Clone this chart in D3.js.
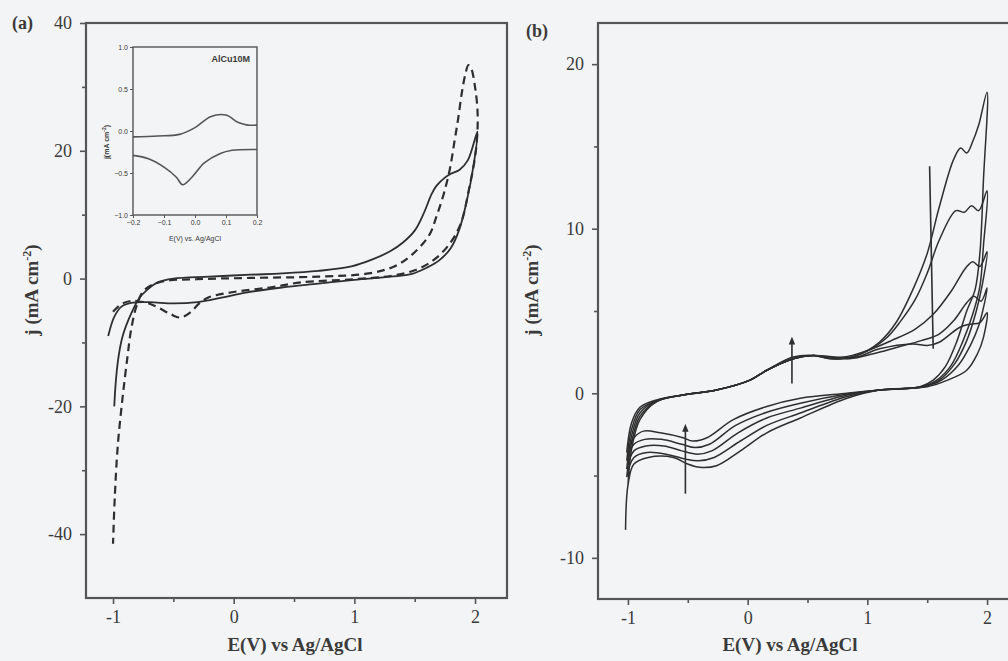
<!DOCTYPE html>
<html><head><meta charset="utf-8">
<script src="https://cdn.jsdelivr.net/npm/d3@7"></script>
<style>
html,body{margin:0;padding:0;background:#f3f4f6;}
svg{display:block;}
text{font-family:"Liberation Serif","DejaVu Serif",serif;fill:#3a3a3a;}
</style></head><body>
<svg id="chart" width="1008" height="661"></svg>
<script>
// ---------- data ----------
const aXTicks = [-1, 0, 1, 2];
const aXMinor = [-0.5, 0.5, 1.5];
const aYTicks = [-40, -20, 0, 20, 40];
const aYMinor = [-30, -10, 10, 30];
const bXTicks = [-1, 0, 1, 2];
const bXMinor = [-0.5, 0.5, 1.5];
const bYTicks = [-10, 0, 10, 20];
const bYMinor = [-5, 5, 15];
const insetXTicks = [-0.2, -0.1, 0.0, 0.1, 0.2];
const insetYTicks = [-1.0, -0.5, 0.0, 0.5, 1.0];

// panel (a) solid curve  [E, j]
const aSolid = [
  [-1.04,-9],[-0.99,-6],[-0.93,-4.4],[-0.85,-3.8],[-0.7,-3.7],[-0.5,-3.9],[-0.3,-3.7],[-0.1,-3.0],[0.1,-2.2],
  [0.4,-1.4],[0.7,-0.8],[1.0,-0.2],[1.3,0.3],[1.47,0.7],[1.6,1.7],[1.7,2.8],[1.8,4.8],[1.87,7.7],
  [1.93,12],[1.99,18],[2.02,23],[1.94,18.5],[1.87,17],[1.8,16.4],[1.75,15.8],[1.68,14.5],[1.64,13.2],
  [1.57,10],[1.5,7.5],[1.4,5.6],[1.3,4.3],[1.15,3.0],[0.975,1.9],[0.7,1.2],[0.4,0.8],[0.14,0.6],
  [-0.2,0.3],[-0.5,0.0],[-0.63,-0.6],[-0.72,-1.8],[-0.78,-3.0],[-0.85,-5.5],[-0.92,-9],[-0.96,-13],[-0.99,-20]
];
// panel (a) dashed curve
const aDashed = [
  [-1.0,-5.2],[-0.93,-4.0],[-0.85,-3.5],[-0.72,-3.8],[-0.62,-4.6],[-0.52,-5.6],[-0.44,-6.1],[-0.36,-5.3],
  [-0.28,-3.8],[-0.2,-2.9],[0.0,-2.1],[0.3,-1.4],[0.56,-0.6],[1.0,-0.1],[1.3,0.4],[1.5,1.3],[1.65,2.8],
  [1.78,5.2],[1.88,8.5],[1.95,14],[2.0,19],[2.02,23],[2.02,26.5],[2.0,30],[1.97,32.8],[1.945,33.4],
  [1.92,32],[1.89,29],[1.86,25],[1.83,21.5],[1.79,17],[1.74,13.2],[1.68,9.7],[1.62,6.8],[1.47,3.6],
  [1.33,1.9],[1.12,0.8],[0.7,0.3],[0.14,0.1],[-0.3,-0.1],[-0.6,-0.5],[-0.74,-1.8],[-0.8,-4],
  [-0.85,-8],[-0.88,-12.2],[-0.92,-18.5],[-0.96,-26],[-0.985,-34],[-1.0,-41.5]
];
// inset (AlCu10M)
const insetUpper = [[-0.2,-0.07],[-0.12,-0.06],[-0.05,-0.04],[0.0,0.04],[0.05,0.17],[0.1,0.19],[0.14,0.1],[0.17,0.07],[0.2,0.07]];
const insetLower = [[-0.2,-0.29],[-0.15,-0.33],[-0.1,-0.43],[-0.06,-0.55],[-0.04,-0.64],[-0.01,-0.55],[0.03,-0.38],[0.08,-0.27],[0.12,-0.23],[0.2,-0.22]];

// panel (b) five cycles
const bCycle1 = [
  [-1.01,-3.6],[-0.95,-2.7],[-0.87,-2.3],[-0.73,-2.4],[-0.54,-2.7],[-0.46,-2.9],[-0.34,-2.7],[-0.12,-1.6],[0.16,-0.8],
  [0.44,-0.3],[0.83,0.0],[1.1,0.2],[1.44,0.4],[1.55,0.8],[1.65,1.6],[1.75,3.2],[1.83,5.0],[1.9,6.3],[1.94,8.5],
  [1.97,13],[2.0,18.3],[1.93,16.3],[1.88,15.3],[1.83,14.6],[1.78,14.9],[1.72,14.2],[1.6,11.3],[1.5,8.5],[1.38,6.3],
  [1.24,4.3],[1.1,3.1],[0.91,2.3],[0.69,2.1],[0.55,2.3],[0.38,2.2],[0.16,1.4],[0.02,0.8],[-0.26,0.2],[-0.54,-0.1],
  [-0.76,-0.4],[-0.9,-0.85],[-0.97,-1.8],[-1.01,-3.6]
];
const bCycle2 = [
  [-1.01,-4.1],[-0.95,-3.1],[-0.86,-2.8],[-0.72,-2.8],[-0.55,-3.1],[-0.44,-3.3],[-0.32,-3.1],[-0.1,-1.95],[0.16,-1.15],
  [0.44,-0.6],[0.83,-0.05],[1.1,0.2],[1.45,0.4],[1.58,0.8],[1.7,1.7],[1.8,3.2],[1.88,4.8],[1.94,6.5],[1.97,9],
  [2.0,12.3],[1.93,11.1],[1.87,11.4],[1.81,11.0],[1.74,11.1],[1.6,9.3],[1.5,7.3],[1.4,5.7],[1.28,4.4],[1.15,3.3],
  [0.95,2.4],[0.75,2.1],[0.55,2.3],[0.38,2.1],[0.16,1.4],[0.02,0.8],[-0.26,0.2],[-0.54,-0.1],[-0.76,-0.45],
  [-0.9,-1.0],[-0.97,-2.2],[-1.01,-4.1]
];
const bCycle3 = [
  [-1.01,-4.6],[-0.95,-3.5],[-0.85,-3.2],[-0.7,-3.2],[-0.55,-3.5],[-0.42,-3.7],[-0.3,-3.5],[-0.08,-2.4],[0.16,-1.5],
  [0.44,-0.9],[0.83,-0.1],[1.1,0.2],[1.46,0.4],[1.6,0.8],[1.73,1.8],[1.83,3.2],[1.91,5.0],[1.96,6.6],[2.0,8.6],
  [1.94,7.7],[1.88,8.0],[1.82,7.6],[1.7,6.2],[1.55,4.8],[1.4,3.9],[1.2,3.2],[1.0,2.6],[0.8,2.2],[0.55,2.3],
  [0.38,2.1],[0.16,1.4],[0.02,0.8],[-0.26,0.2],[-0.54,-0.1],[-0.76,-0.45],[-0.9,-1.2],[-0.97,-2.6],[-1.01,-4.6]
];
const bCycle4 = [
  [-1.01,-5.1],[-0.95,-3.9],[-0.84,-3.6],[-0.68,-3.7],[-0.52,-4.0],[-0.41,-4.1],[-0.28,-3.9],[-0.06,-2.9],[0.16,-1.95],
  [0.44,-1.2],[0.83,-0.2],[1.1,0.2],[1.47,0.4],[1.62,0.8],[1.76,1.7],[1.86,2.9],[1.93,4.1],[1.97,5.2],[2.0,6.4],
  [1.95,5.6],[1.89,5.9],[1.83,5.5],[1.72,4.4],[1.6,3.6],[1.45,3.2],[1.25,2.8],[1.05,2.4],[0.85,2.1],[0.55,2.3],
  [0.38,2.1],[0.16,1.4],[0.02,0.8],[-0.26,0.2],[-0.54,-0.1],[-0.76,-0.5],[-0.9,-1.4],[-0.97,-3.0],[-1.01,-5.1]
];
const bCycle5 = [
  [-1.02,-8.3],[-1.0,-5.6],[-0.95,-4.3],[-0.83,-3.9],[-0.62,-3.9],[-0.5,-4.3],[-0.4,-4.5],[-0.26,-4.4],[-0.06,-3.5],
  [0.16,-2.4],[0.44,-1.5],[0.83,-0.3],[1.1,0.2],[1.5,0.4],[1.67,0.8],[1.83,1.4],[1.92,2.4],[1.97,3.4],[2.0,4.9],
  [1.94,4.3],[1.86,4.2],[1.77,4.0],[1.6,3.1],[1.5,2.9],[1.38,3.0],[1.1,2.7],[0.91,2.2],[0.7,2.1],[0.55,2.3],
  [0.38,2.1],[0.16,1.4],[0.02,0.8],[-0.26,0.2],[-0.54,-0.1],[-0.76,-0.5],[-0.9,-1.6],[-0.97,-3.4],[-1.0,-5.6]
];
const bCycles = [bCycle1, bCycle2, bCycle3, bCycle4, bCycle5];
// extra straight trace and arrows in panel (b)
const bSpike = [[1.52,13.8],[1.55,2.7]];
const bArrows = [ {x:-0.52, from:-6.1, to:-2.1}, {x:0.37, from:0.6, to:3.2} ];

// ---------- drawing ----------
const svg = d3.select("#chart");
const ink = "#2e2e2e", axisInk = "#555";

function panel(opt){
  const g = svg.append("g");
  const x = d3.scaleLinear().domain(opt.xd).range(opt.xr);
  const y = d3.scaleLinear().domain(opt.yd).range(opt.yr);
  g.append("rect").attr("x",opt.xr[0]).attr("y",opt.yr[1])
    .attr("width",opt.xr[1]-opt.xr[0]).attr("height",opt.yr[0]-opt.yr[1])
    .attr("fill","none").attr("stroke",axisInk).attr("stroke-width",2.2);
  const fmt = d=>d3.format("d")(d).replace("−","-");
  const xa = g.append("g").attr("transform",`translate(0,${opt.yr[0]})`)
    .call(d3.axisBottom(x).tickValues(opt.xt).tickSize(6).tickSizeOuter(0).tickPadding(6).tickFormat(fmt));
  const xm = g.append("g").attr("transform",`translate(0,${opt.yr[0]})`)
    .call(d3.axisBottom(x).tickValues(opt.xm).tickSize(4).tickSizeOuter(0).tickFormat(""));
  const ya = g.append("g").attr("transform",`translate(${opt.xr[0]},0)`)
    .call(d3.axisLeft(y).tickValues(opt.yt).tickSize(6).tickSizeOuter(0).tickPadding(8).tickFormat(fmt));
  const ym = g.append("g").attr("transform",`translate(${opt.xr[0]},0)`)
    .call(d3.axisLeft(y).tickValues(opt.ym).tickSize(4).tickSizeOuter(0).tickFormat(""));
  [xa,xm,ya,ym].forEach(a=>{a.select(".domain").remove();
    a.selectAll("line").attr("stroke",axisInk).attr("stroke-width",1.6);
    a.selectAll("text").attr("font-size",18).attr("fill","#3a3a3a").style("font-family","Liberation Serif, serif");});
  g.append("text").attr("x",(opt.labelXc)).attr("y",651).attr("text-anchor","middle")
    .attr("font-size",19).attr("font-weight","bold").text("E(V) vs Ag/AgCl");
  const yl = g.append("text").attr("transform",`translate(${opt.ylx},${opt.yly}) rotate(-90)`)
    .attr("text-anchor","middle").attr("font-size",19).attr("font-weight","bold");
  yl.append("tspan").text("j (mA cm");
  yl.append("tspan").attr("dy",-7).attr("font-size",12).text("-2");
  yl.append("tspan").attr("dy",7).text(")");
  return {g,x,y};
}

// Panel (a)
const A = panel({xd:[-1.224,2.265], xr:[86,507], yd:[-50,40], yr:[598,23],
  xt:aXTicks, xm:aXMinor, yt:aYTicks, ym:aYMinor, labelXc:295, ylx:38, yly:290});
const lineA = d3.line().x(d=>A.x(d[0])).y(d=>A.y(d[1])).curve(d3.curveCatmullRom.alpha(0.5));
A.g.append("path").datum(aSolid).attr("d",lineA).attr("fill","none").attr("stroke",ink).attr("stroke-width",1.8);
A.g.append("path").datum(aDashed).attr("d",lineA).attr("fill","none").attr("stroke",ink).attr("stroke-width",2.2).attr("stroke-dasharray","8,5");
A.g.append("text").attr("x",12).attr("y",29).attr("font-size",18).attr("font-weight","bold").text("(a)");

// Inset
const ix = d3.scaleLinear().domain([-0.2,0.2]).range([133,257]);
const iy = d3.scaleLinear().domain([-1.0,1.0]).range([215,47]);
const ig = svg.append("g");
ig.append("rect").attr("x",133).attr("y",47).attr("width",124).attr("height",168).attr("fill","none")
  .attr("stroke",axisInk).attr("stroke-width",1.4);
const ixa = ig.append("g").attr("transform","translate(0,215)").call(d3.axisBottom(ix).tickValues(insetXTicks).tickSize(3).tickSizeOuter(0).tickPadding(2).tickFormat(d3.format(".1f")));
const iya = ig.append("g").attr("transform","translate(133,0)").call(d3.axisLeft(iy).tickValues(insetYTicks).tickSize(3).tickSizeOuter(0).tickPadding(2).tickFormat(d3.format(".1f")));
[ixa,iya].forEach(a=>{a.select(".domain").remove();a.selectAll("line").attr("stroke",axisInk);
  a.selectAll("text").attr("font-size",7).attr("fill","#555").style("font-family","Liberation Sans, sans-serif");});
ig.append("text").attr("x",195).attr("y",241).attr("text-anchor","middle").attr("font-size",7).attr("fill","#555")
  .style("font-family","Liberation Sans, sans-serif").text("E(V) vs. Ag/AgCl");
const iyl = ig.append("text").attr("transform","translate(109,142) rotate(-90)").attr("text-anchor","middle")
  .attr("font-size",7).attr("fill","#555").attr("font-weight","bold").style("font-family","Liberation Sans, sans-serif");
iyl.append("tspan").text("j(mA cm");iyl.append("tspan").attr("dy",-3).attr("font-size",5).text("-2");iyl.append("tspan").attr("dy",3).text(")");
ig.append("text").attr("x",250).attr("y",62).attr("text-anchor","end").attr("font-size",9).attr("font-weight","bold")
  .attr("fill","#444").style("font-family","Liberation Sans, sans-serif").text("AlCu10M");
const lineI = d3.line().x(d=>ix(d[0])).y(d=>iy(d[1])).curve(d3.curveCatmullRom.alpha(0.5));
[insetUpper, insetLower].forEach(s=>ig.append("path").datum(s).attr("d",lineI).attr("fill","none").attr("stroke","#555").attr("stroke-width",1.6));

// Panel (b)
const B = panel({xd:[-1.25,2.25], xr:[598,1017], yd:[-12.5,22.5], yr:[599,23],
  xt:bXTicks, xm:bXMinor, yt:bYTicks, ym:bYMinor, labelXc:790, ylx:538, yly:290});
const lineB = d3.line().x(d=>B.x(d[0])).y(d=>B.y(d[1])).curve(d3.curveCatmullRom.alpha(0.5));
bCycles.forEach(c=>B.g.append("path").datum(c).attr("d",lineB).attr("fill","none").attr("stroke",ink).attr("stroke-width",1.5));
B.g.append("path").datum(bSpike).attr("d",d3.line().x(d=>B.x(d[0])).y(d=>B.y(d[1]))).attr("fill","none").attr("stroke",ink).attr("stroke-width",1.6);
svg.append("defs").append("marker").attr("id","ah").attr("viewBox","0 0 10 10").attr("refX",5).attr("refY",5)
  .attr("markerWidth",5).attr("markerHeight",7).attr("orient","auto")
  .append("path").attr("d","M0,1 L10,5 L0,9 Z").attr("fill",ink);
bArrows.forEach(a=>B.g.append("line").attr("x1",B.x(a.x)).attr("x2",B.x(a.x)).attr("y1",B.y(a.from)).attr("y2",B.y(a.to))
  .attr("stroke",ink).attr("stroke-width",1.6).attr("marker-end","url(#ah)"));
B.g.append("text").attr("x",526).attr("y",37).attr("font-size",18).attr("font-weight","bold").text("(b)");
</script></body></html>
